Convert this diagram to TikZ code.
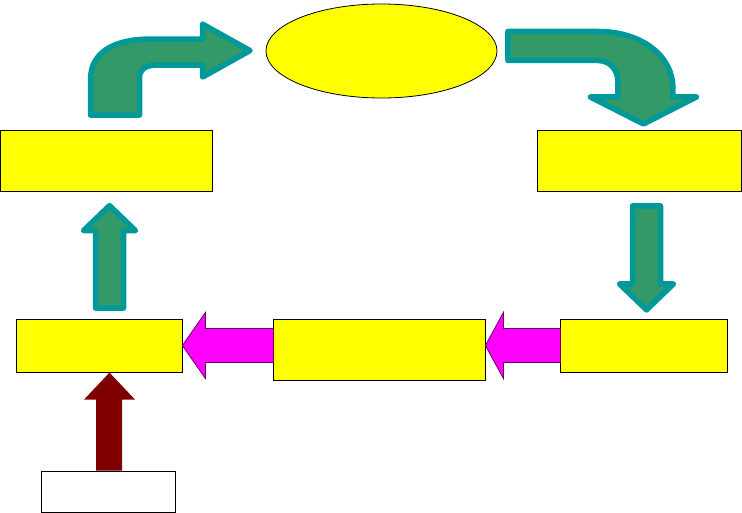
\documentclass[tikz,border=0pt]{standalone}
\usetikzlibrary{shapes.geometric, arrows}
\definecolor{boxyellow}{RGB}{255,255,0}
\definecolor{arrowpink}{RGB}{255,0,255}
\definecolor{arrowgreen}{RGB}{51,153,102}
\definecolor{arrowteal}{RGB}{0,153,153}
\definecolor{pinkedge}{RGB}{102,0,102}
\definecolor{darkred}{RGB}{128,0,0}
\tikzstyle{yellowbox} = [rectangle, draw=black, fill=boxyellow, inner sep=0pt, line width=0.8pt]
\tikzstyle{goalshape} = [ellipse, draw=black, fill=boxyellow, inner sep=0pt, line width=0.8pt]
\tikzstyle{whitebox} = [rectangle, draw=black, fill=white, inner sep=0pt, line width=0.8pt]
\tikzstyle{greenarrow} = [draw=arrowteal, fill=arrowgreen, line width=5.5pt, line join=round]
\tikzstyle{pinkarrow} = [draw=pinkedge, fill=arrowpink, line width=0.8pt]
\tikzstyle{redarrow} = [fill=darkred]
\begin{document}
\begin{tikzpicture}[x=1pt, y=1pt, node distance=185pt]
\useasboundingbox (0,0) rectangle (742,-513);

	\node (goal) [goalshape, minimum width=231pt, minimum height=94pt] at (381.5,-51) {};
	\node (tl) [yellowbox, minimum width=212pt, minimum height=61pt, below of=goal, xshift=-275.5pt, yshift=75.5pt] {};
	\node (tr) [yellowbox, minimum width=204pt, minimum height=61pt, below of=goal, xshift=257.5pt, yshift=75.5pt] {};
	\node (bl) [yellowbox, minimum width=166pt, minimum height=53pt, below of=tl, xshift=-7pt] {};
	\node (br) [yellowbox, minimum width=167pt, minimum height=53pt, below of=tr, xshift=4.5pt] {};
	\node (mid) [yellowbox, minimum width=212pt, minimum height=61pt, below of=goal, xshift=-2.5pt, yshift=-113.5pt] {};
	\node (src) [whitebox, minimum width=134pt, minimum height=41pt, below of=bl, xshift=9pt, yshift=39pt] {};

% bent arrows
\draw [greenarrow, shift={(tl.north)}] (-15.5,14.5) -- (-15.5,50)
	.. controls (-15.5,78) and (9,90.5) .. (44,90.5) -- (96.5,90.5) -- (96.5,105.5)
	-- (144,79) -- (96.5,52.5) -- (96.5,64.5) -- (51,64.5)
	.. controls (39,64.5) and (33.5,60) .. (33.5,52) -- (33.5,14.5) -- cycle;
\draw [greenarrow, shift={(goal.east)}] (10.5,19.5) -- (101,19.5)
	.. controls (143,19.5) and (175.5,-4) .. (175.5,-37) -- (175.5,-46) -- (199,-46)
	-- (146,-73) -- (93,-46) -- (120.5,-46) -- (120.5,-31)
	.. controls (120.5,-19) and (113,-9.5) .. (100,-9.5) -- (10.5,-9.5) -- cycle;

% straight arrows
\draw [greenarrow, shift={(bl.north)}] (-3.5,10.5) -- ++(0,77.5) -- ++(-12,0) -- ++(26,25) -- ++(26,-25) -- ++(-12,0) -- ++(0,-77.5) -- cycle;
\draw [greenarrow, shift={(tr.south)}] (-6.5,-14.5) -- ++(0,-78) -- ++(-13,0) -- ++(27,-26) -- ++(27,26) -- ++(-13,0) -- ++(0,78) -- cycle;
\draw [pinkarrow, shift={(bl.east)}] (0,0) -- ++(23,33) -- ++(0,-16) -- ++(68,0) -- ++(0,-34) -- ++(-68,0) -- ++(0,-16) -- cycle;
\draw [pinkarrow, shift={(mid.east |- br.west)}] (0,0) -- ++(18,33) -- ++(0,-16) -- ++(57,0) -- ++(0,-34) -- ++(-57,0) -- ++(0,-16) -- cycle;
\fill [redarrow, shift={(src.north)}] (-12,0) -- ++(0,71) -- ++(-12,0) -- ++(25.5,27) -- ++(25.5,-27) -- ++(-13,0) -- ++(0,-71) -- cycle;

\end{tikzpicture}
\end{document}
